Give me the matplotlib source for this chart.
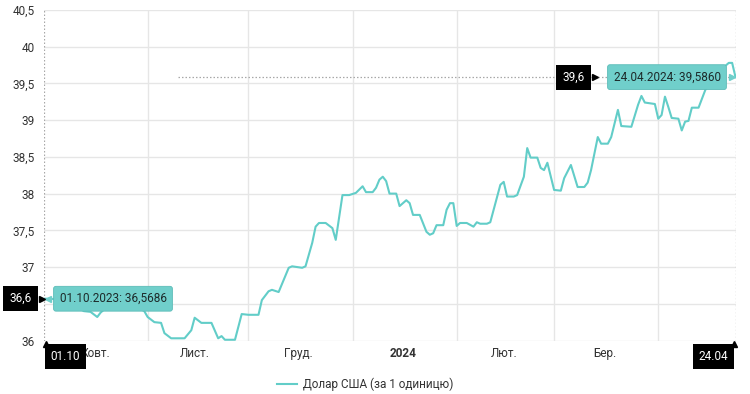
import matplotlib
matplotlib.use("Agg")
import matplotlib.pyplot as plt
import pandas as pd
from matplotlib.transforms import offset_copy

plt.rcParams['font.family'] = ['Roboto', 'DejaVu Sans']

# Курс долара США (НБУ), 01.10.2023 - 24.04.2024
dates = [
    '2023-10-01', '2023-10-03', '2023-10-05', '2023-10-08', '2023-10-10', '2023-10-13',
    '2023-10-15', '2023-10-17', '2023-10-18', '2023-10-21', '2023-10-25', '2023-10-28',
    '2023-10-31', '2023-11-01', '2023-11-03', '2023-11-05', '2023-11-06', '2023-11-08',
    '2023-11-12', '2023-11-14', '2023-11-15', '2023-11-17', '2023-11-20', '2023-11-22',
    '2023-11-23', '2023-11-24', '2023-11-27', '2023-11-29', '2023-12-01', '2023-12-04',
    '2023-12-05', '2023-12-07', '2023-12-08', '2023-12-10', '2023-12-13', '2023-12-14',
    '2023-12-17', '2023-12-18', '2023-12-20', '2023-12-21', '2023-12-22', '2023-12-24',
    '2023-12-26', '2023-12-27', '2023-12-28', '2023-12-29', '2023-12-31', '2024-01-02',
    '2024-01-04', '2024-01-05', '2024-01-07', '2024-01-08', '2024-01-09', '2024-01-10',
    '2024-01-11', '2024-01-12', '2024-01-14', '2024-01-15', '2024-01-16', '2024-01-17',
    '2024-01-18', '2024-01-19', '2024-01-21', '2024-01-23', '2024-01-24', '2024-01-25',
    '2024-01-26', '2024-01-28', '2024-01-29', '2024-01-30', '2024-01-31', '2024-02-01',
    '2024-02-02', '2024-02-04', '2024-02-06', '2024-02-07', '2024-02-08', '2024-02-10',
    '2024-02-11', '2024-02-12', '2024-02-14', '2024-02-15', '2024-02-16', '2024-02-18',
    '2024-02-19', '2024-02-21', '2024-02-22', '2024-02-23', '2024-02-25', '2024-02-26',
    '2024-02-27', '2024-02-28', '2024-03-01', '2024-03-03', '2024-03-04', '2024-03-06',
    '2024-03-08', '2024-03-10', '2024-03-11', '2024-03-12', '2024-03-14', '2024-03-15',
    '2024-03-17', '2024-03-18', '2024-03-20', '2024-03-21', '2024-03-24', '2024-03-26',
    '2024-03-27', '2024-03-28', '2024-03-31', '2024-04-01', '2024-04-02', '2024-04-03',
    '2024-04-04', '2024-04-05', '2024-04-07', '2024-04-08', '2024-04-09', '2024-04-10',
    '2024-04-11', '2024-04-13', '2024-04-15', '2024-04-16', '2024-04-17', '2024-04-19',
    '2024-04-21', '2024-04-22', '2024-04-23', '2024-04-24',
]
rates = [
    36.5686, 36.5686, 36.56, 36.53, 36.48, 36.40,
    36.39, 36.32, 36.38, 36.50, 36.52, 36.48,
    36.40, 36.32, 36.25, 36.24, 36.10, 36.03,
    36.03, 36.14, 36.31, 36.24, 36.24, 36.03,
    36.06, 36.01, 36.01, 36.36, 36.35, 36.35,
    36.55, 36.67, 36.69, 36.66, 36.99, 37.01,
    36.99, 37.01, 37.33, 37.55, 37.60, 37.60,
    37.53, 37.37, 37.67, 37.98, 37.98, 38.01,
    38.10, 38.02, 38.02, 38.08, 38.19, 38.23,
    38.17, 38.00, 38.00, 37.83, 37.87, 37.91,
    37.87, 37.71, 37.71, 37.48, 37.44, 37.46,
    37.57, 37.57, 37.78, 37.87, 37.87, 37.56,
    37.60, 37.60, 37.55, 37.61, 37.59, 37.59,
    37.61, 37.78, 38.12, 38.16, 37.96, 37.96,
    37.98, 38.23, 38.62, 38.49, 38.49, 38.35,
    38.32, 38.42, 38.05, 38.04, 38.21, 38.39,
    38.09, 38.09, 38.15, 38.32, 38.77, 38.68,
    38.68, 38.77, 39.14, 38.92, 38.91, 39.21,
    39.33, 39.24, 39.22, 39.02, 39.07, 39.32,
    39.18, 39.03, 39.02, 38.86, 38.98, 38.99,
    39.17, 39.17, 39.41, 39.48, 39.55, 39.64,
    39.74, 39.78, 39.78, 39.586,
]

series_name = 'Долар США (за 1 одиницю)'
# квітень під міткою "24.04" не видно
month_labels = ['Жовт.', 'Лист.', 'Груд.', '2024', 'Лют.', 'Бер.']
label_dates = ['2023-10-16', '2023-11-15', '2023-12-16', '2024-01-16',
               '2024-02-15', '2024-03-16']
month_starts = ['2023-11-01', '2023-12-01', '2024-01-01', '2024-02-01',
                '2024-03-01', '2024-04-01']
y_ticks = [36, 36.5, 37, 37.5, 38, 38.5, 39, 39.5, 40, 40.5]
guide_start = '2023-11-10'

teal = '#62cdc8'
box_teal = '#70cfcb'

x = pd.to_datetime(dates)

fig = plt.figure(figsize=(7.5, 3.94), dpi=100)
ax = fig.add_axes([43.5 / 750, 1 - 340.5 / 394, 692 / 750, 330.5 / 394])

ax.plot(x, rates, color=teal, lw=1.5, solid_joinstyle='round', label=series_name, zorder=3)

ax.set_xlim(x[0], x[-1])
ax.set_ylim(36, 40.5)

# мітку 36,5 закриває чорна плашка з поточним значенням
ax.set_yticks(y_ticks)
ax.set_yticklabels(['' if v == 36.5 else f'{v:g}'.replace('.', ',') for v in y_ticks])
ax.set_xticks(pd.to_datetime(label_dates))
ax.set_xticklabels(month_labels)
ax.set_xticks(pd.to_datetime(month_starts), minor=True)
ax.get_xticklabels()[3].set_fontweight('bold')

ax.grid(axis='y', which='major', color='#e6e6e6', lw=1)
ax.grid(axis='x', which='minor', color='#e6e6e6', lw=1)
ax.grid(axis='x', which='major', visible=False)
ax.tick_params(which='both', length=0)
ax.tick_params(axis='y', pad=6, labelsize=8.5, labelcolor='#333333')
ax.tick_params(axis='x', pad=5, labelsize=8.5, labelcolor='#333333')
for s in ax.spines.values():
    s.set_visible(False)

# пунктирні лінії перехрестя
dot = (0, (1.2, 1.6))
ax.axvline(x[0], color='#a8a8a8', lw=0.9, ls=dot, zorder=2)
ax.axvline(x[-1], color='#a8a8a8', lw=0.9, ls=dot, zorder=2)
ax.hlines(rates[-1], pd.Timestamp(guide_start), x[-1], color='#a8a8a8', lw=0.9, ls=dot, zorder=2)

black_box = dict(boxstyle='square,pad=0.5', fc='black', ec='none')
tip_box = dict(boxstyle='round,pad=0.5,rounding_size=0.2', fc=box_teal, ec='#5cbcb8', lw=0.6)
fs = 8.5

def fmt(v, n):
    return f'{v:.{n}f}'.replace('.', ',')

# початок
ax.annotate(f'{x[0]:%d.%m.%Y}: {fmt(rates[0], 4)}', xy=(x[0], rates[0]), xytext=(16, 0),
            textcoords='offset pixels', ha='left', va='center', fontsize=fs,
            color='#1d2b2b', bbox=tip_box, zorder=6, annotation_clip=False)
ax.plot([x[0]], [rates[0]], marker='<', ms=5, color=box_teal, zorder=7, clip_on=False,
        transform=offset_copy(ax.transData, fig, x=4, y=0, units='dots'))
ax.annotate(fmt(rates[0], 1), xy=(x[0], rates[0]), xytext=(-23, 0),
            textcoords='offset pixels', ha='center', va='center', fontsize=fs,
            color='white', bbox=black_box, zorder=6, annotation_clip=False)
ax.plot([x[0]], [rates[0]], marker='>', ms=4, color='black', zorder=7, clip_on=False,
        transform=offset_copy(ax.transData, fig, x=-2, y=0, units='dots'))
ax.annotate(f'{x[0]:%d.%m}', xy=(x[0], 36), xytext=(22, -16),
            textcoords='offset pixels', ha='center', va='center', fontsize=fs,
            color='white', bbox=black_box, zorder=6, annotation_clip=False)
ax.plot([x[0]], [36], marker='^', ms=4, color='black', zorder=7, clip_on=False,
        transform=offset_copy(ax.transData, fig, x=2, y=-3, units='dots'))

# кінець
ax.annotate(f'{x[-1]:%d.%m.%Y}: {fmt(rates[-1], 4)}', xy=(x[-1], rates[-1]), xytext=(-15, 0),
            textcoords='offset pixels', ha='right', va='center', fontsize=fs,
            color='#1d2b2b', bbox=tip_box, zorder=6, annotation_clip=False)
ax.plot([x[-1]], [rates[-1]], marker='>', ms=5, color=box_teal, zorder=7, clip_on=False,
        transform=offset_copy(ax.transData, fig, x=-4, y=0, units='dots'))
ax.annotate(fmt(rates[-1], 1), xy=(x[-1], rates[-1]), xytext=(-162, 0),
            textcoords='offset pixels', ha='center', va='center', fontsize=fs,
            color='white', bbox=black_box, zorder=6, annotation_clip=False)
ax.plot([x[-1]], [rates[-1]], marker='>', ms=4, color='black', zorder=7, clip_on=False,
        transform=offset_copy(ax.transData, fig, x=-141, y=0, units='dots'))
ax.annotate(f'{x[-1]:%d.%m}', xy=(x[-1], 36), xytext=(-22, -16),
            textcoords='offset pixels', ha='center', va='center', fontsize=fs,
            color='white', bbox=black_box, zorder=6, annotation_clip=False)
ax.plot([x[-1]], [36], marker='^', ms=4, color='black', zorder=7, clip_on=False,
        transform=offset_copy(ax.transData, fig, x=-2, y=-3, units='dots'))

fig.legend(loc='center', bbox_to_anchor=(0.487, 0.024), frameon=False, fontsize=fs,
           handlelength=1.7, handletextpad=0.5, labelcolor='#333333')

fig.savefig('out.png', dpi=100)
